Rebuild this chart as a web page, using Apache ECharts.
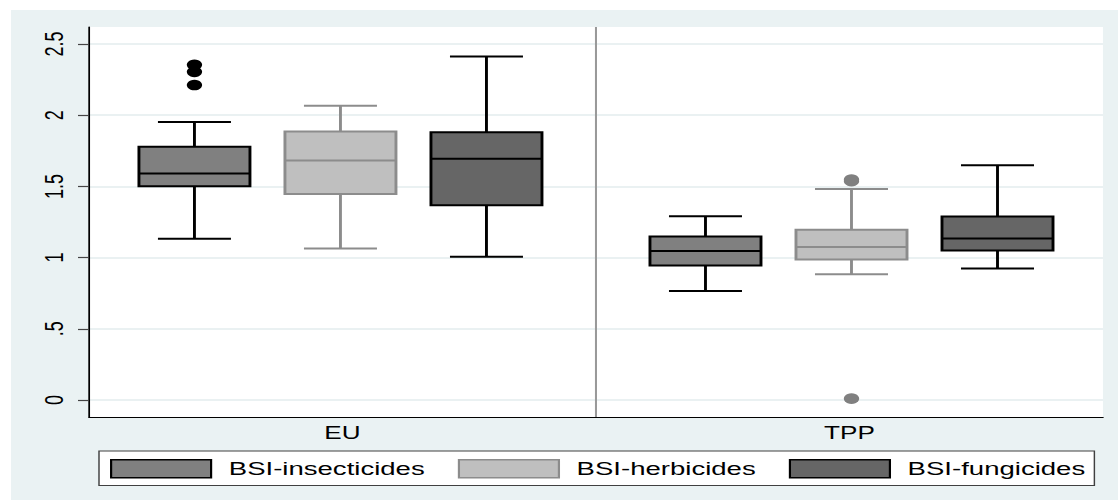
<!DOCTYPE html>
<html>
<head>
<meta charset="utf-8">
<script src="https://cdn.jsdelivr.net/npm/echarts@6/dist/echarts.min.js"></script>
<style>
  html, body { margin: 0; padding: 0; background: #ffffff; overflow: hidden; }
  /* The figure is drawn on a narrower canvas and stretched horizontally,
     giving the wide glyphs and oval markers of the exported graph. */
  #wrap { width: 1118px; height: 500px; overflow: hidden; }
  #chart { height: 500px; transform-origin: 0 0; }
</style>
</head>
<body>
<div id="wrap"><div id="chart"></div></div>
<script>
// ---- data -------------------------------------------------------------
const categories = ['EU', 'TPP'];
const seriesNames = ['BSI-insecticides', 'BSI-herbicides', 'BSI-fungicides'];

// [lower whisker, Q1, median, Q3, upper whisker] per category
const insecticides = [[1.132, 1.502, 1.591, 1.778, 1.952], [0.766, 0.944, 1.047, 1.148, 1.291]];
const herbicides   = [[1.064, 1.446, 1.682, 1.886, 2.066], [0.883, 0.986, 1.075, 1.195, 1.481]];
const fungicides   = [[1.005, 1.368, 1.694, 1.881, 2.413], [0.923, 1.050, 1.134, 1.288, 1.649]];

// [category index, value]
const insecticidesOutliers = [[0, 2.354], [0, 2.305], [0, 2.212]];
const herbicidesOutliers   = [[1, 1.548], [1, 1.537], [1, 0.009]];
const fungicidesOutliers   = [];

const yTicks = [0, 0.5, 1, 1.5, 2, 2.5];
const yTickLabels = ['0', '.5', '1', '1.5', '2', '2.5'];
const yMin = -0.12;
const yMax = 2.62;

// ---- layout -----------------------------------------------------------
const SX = 1.45;                 // horizontal stretch
const W = 1118 / SX;             // canvas width before stretching
const FONT = '"Liberation Sans", Arial, Helvetica, sans-serif';
const el = document.getElementById('chart');
el.style.width = W + 'px';
el.style.transform = 'scaleX(' + SX + ')';

const gridLeft = 89 / SX;
const gridRight = W - 1103 / SX;

// position of each box inside its category band (fraction of band width)
const slot = [-0.288, 0, 0.288];
const groupShift = [-0.004, 0.004];
const boxFrac = 0.219;
const capFrac = 0.144;

const styles = [
  { fill: '#808080', stroke: '#000000', dot: '#000000' },
  { fill: '#bfbfbf', stroke: '#8c8c8c', dot: '#808080' },
  { fill: '#666666', stroke: '#000000', dot: '#000000' }
];

function boxCenter(api, cat, k, v) {
  const band = api.size([1, 0])[0];
  return api.coord([cat, v])[0] + (slot[k] + groupShift[cat]) * band;
}

function boxRenderer(k) {
  return function (params, api) {
    const cat = api.value(0);
    const low = api.value(1), q1 = api.value(2), med = api.value(3), q3 = api.value(4), high = api.value(5);
    const band = api.size([1, 0])[0];
    const cx = boxCenter(api, cat, k, med);
    const hw = boxFrac * band / 2;
    const cw = capFrac * band / 2;
    const yl = api.coord([cat, low])[1];
    const y1 = api.coord([cat, q1])[1];
    const ym = api.coord([cat, med])[1];
    const y3 = api.coord([cat, q3])[1];
    const yh = api.coord([cat, high])[1];
    const st = styles[k];
    const line = { stroke: st.stroke, lineWidth: 2 };
    const children = [];
    // divider between the two groups
    if (k === 0 && params.dataIndex === 1) {
      const cs = params.coordSys;
      const xs = api.coord([cat, med])[0] - band / 2;
      children.push({ type: 'line', shape: { x1: xs, y1: cs.y, x2: xs, y2: cs.y + cs.height },
        style: { stroke: '#999999', lineWidth: 1.4 } });
    }
    children.push(
      { type: 'line', shape: { x1: cx, y1: y3, x2: cx, y2: yh }, style: line },
      { type: 'line', shape: { x1: cx - cw, y1: yh, x2: cx + cw, y2: yh }, style: line },
      { type: 'line', shape: { x1: cx, y1: y1, x2: cx, y2: yl }, style: line },
      { type: 'line', shape: { x1: cx - cw, y1: yl, x2: cx + cw, y2: yl }, style: line },
      { type: 'rect', shape: { x: cx - hw, y: y3, width: 2 * hw, height: y1 - y3 },
        style: { fill: st.fill, stroke: st.stroke, lineWidth: 2 } },
      { type: 'line', shape: { x1: cx - hw, y1: ym, x2: cx + hw, y2: ym }, style: line }
    );
    return { type: 'group', children: children };
  };
}

function outlierRenderer(k) {
  return function (params, api) {
    const cat = api.value(0);
    const v = api.value(1);
    return { type: 'circle',
      shape: { cx: boxCenter(api, cat, k, v), cy: api.coord([cat, v])[1], r: 5.3 },
      style: { fill: styles[k].dot } };
  };
}

const boxData = [insecticides, herbicides, fungicides];
const outlierData = [insecticidesOutliers, herbicidesOutliers, fungicidesOutliers];

const series = [];
boxData.forEach(function (rows, k) {
  series.push({
    name: seriesNames[k],
    type: 'custom',
    renderItem: boxRenderer(k),
    itemStyle: { color: styles[k].fill, borderColor: styles[k].stroke, borderWidth: 1.5 },
    encode: { x: 0, y: [1, 2, 3, 4, 5] },
    data: rows.map(function (r, i) { return [i].concat(r); }),
    z: 2
  });
});
outlierData.forEach(function (pts, k) {
  series.push({
    name: seriesNames[k],
    type: 'custom',
    renderItem: outlierRenderer(k),
    encode: { x: 0, y: 1 },
    data: pts,
    z: 3
  });
});

const chart = echarts.init(el, null, { renderer: 'svg' });
chart.setOption({
  animation: false,
  backgroundColor: '#ffffff',
  textStyle: { fontFamily: FONT },
  graphic: [{
    type: 'rect', silent: true, z: -10,
    shape: { x: 11 / SX, y: 10, width: W, height: 500 },
    style: { fill: '#eaf2f3' }
  }],
  grid: {
    left: gridLeft, right: gridRight, top: 27, bottom: 83,
    show: true, backgroundColor: '#ffffff', borderWidth: 0,
    outerBoundsMode: 'none'
  },
  legend: {
    data: seriesNames.map(function (n, k) {
      return { name: n, itemStyle: { color: styles[k].fill, borderColor: styles[k].stroke, borderWidth: 1.5 } };
    }),
    left: 99 / SX, top: 451,
    orient: 'horizontal',
    icon: 'rect',
    itemWidth: 100 / SX, itemHeight: 18,
    itemGap: 22.8,
    padding: [8, 6.3, 7, 7.6],
    backgroundColor: '#ffffff',
    borderColor: '#404040', borderWidth: 1,
    textStyle: { fontFamily: FONT, fontSize: 19, color: '#000', padding: [0, 0, 0, 7.2], lineHeight: 18 }
  },
  xAxis: {
    type: 'category',
    data: categories,
    boundaryGap: true,
    axisLine: { show: true, onZero: false, lineStyle: { color: '#000', width: 1.2 } },
    axisTick: { show: false },
    axisLabel: { fontFamily: FONT, fontSize: 18, color: '#000', margin: 7 },
    splitLine: { show: false }
  },
  yAxis: {
    type: 'value',
    min: yMin, max: yMax,
    axisLine: { show: true, lineStyle: { color: '#000', width: 1.2 } },
    axisTick: { show: true, length: 7.6, customValues: yTicks, lineStyle: { color: '#444', width: 1.2 } },
    axisLabel: {
      rotate: 90, fontFamily: FONT, fontSize: 18, color: '#000', margin: 15,
      customValues: yTicks,
      formatter: function (v) {
        const i = yTicks.findIndex(function (t) { return Math.abs(t - v) < 1e-9; });
        return i >= 0 ? yTickLabels[i] : '';
      }
    },
    splitLine: { show: true, lineStyle: { color: '#e3ecee', width: 1.5 } }
  },
  series: series
});
</script>
</body>
</html>
